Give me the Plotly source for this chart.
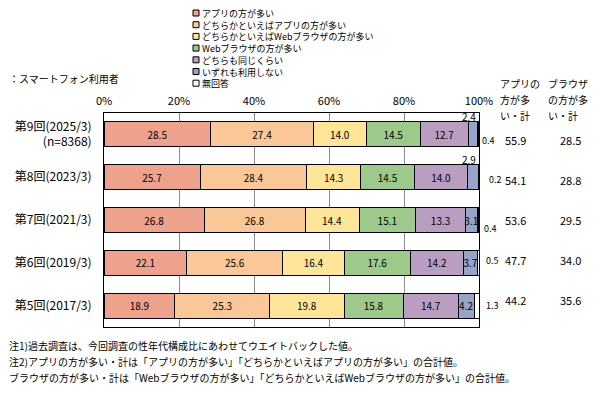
import plotly.graph_objects as go

# ---------------- data ----------------
categories = ["第9回(2025/3)<br>(n=8368)", "第8回(2023/3)", "第7回(2021/3)", "第6回(2019/3)", "第5回(2017/3)"]
series_names = ["アプリの方が多い", "どちらかといえばアプリの方が多い", "どちらかといえばWebブラウザの方が多い",
                "Webブラウザの方が多い", "どちらも同じくらい", "いずれも利用しない", "無回答"]
app_more = [28.5, 25.7, 26.8, 22.1, 18.9]
rather_app = [27.4, 28.4, 26.8, 25.6, 25.3]
rather_web = [14.0, 14.3, 14.4, 16.4, 19.8]
web_more = [14.5, 14.5, 15.1, 17.6, 15.8]
same = [12.7, 14.0, 13.3, 14.2, 14.7]
neither = [2.4, 2.9, 3.1, 3.7, 4.2]
no_answer = [0.4, 0.2, 0.4, 0.5, 1.3]
app_total = [55.9, 54.1, 53.6, 47.7, 44.2]
browser_total = [28.5, 28.8, 29.5, 34.0, 35.6]
x_ticks = [0, 20, 40, 60, 80, 100]
x_tick_labels = ["0%", "20%", "40%", "60%", "80%", "100%"]
header_app = ["アプリの", "方が多", "い・計"]
header_browser = ["ブラウザ", "の方が多", "い・計"]

series_values = [app_more, rather_app, rather_web, web_more, same, neither, no_answer]
colors = ["#EEA28C", "#FAC898", "#FEE597", "#9DC98A", "#B99EC1", "#97A3C8", "#FFFFFF"]

FONT = "Noto Sans CJK JP"
W, H = 601, 393
L, R, T, B = 104, 479, 113, 327


def px_x(px):
    return (px - L) / (R - L)


def px_y(py):
    return (B - py) / (B - T)


fig = go.Figure()
for i, (name, vals) in enumerate(zip(series_names, series_values)):
    if i < 5:
        texts = [f"{v:.1f}" for v in vals]
    elif i == 5:
        texts = [f"{v:.1f}" if v >= 3 else "" for v in vals]
    else:
        texts = ["" for v in vals]
    fig.add_trace(go.Bar(
        y=categories, x=vals, name=name, orientation="h",
        marker=dict(color=colors[i], line=dict(color="#000000", width=1)),
        text=texts, textposition="inside", insidetextanchor="middle",
        textangle=0, constraintext="none",
        textfont=dict(family=FONT, size=10, color="#000000"),
        showlegend=False, hoverinfo="skip",
    ))

annotations = []
shapes = []

# small "いずれも利用しない" labels above the bar
cum_before_neither = [sum(s[k] for s in series_values[:5]) for k in range(len(categories))]
for k, cat in enumerate(categories):
    v = neither[k]
    if v < 3:
        annotations.append(dict(x=cum_before_neither[k] + v / 2, y=cat, xref="x", yref="y",
                                text=f"{v:.1f}", showarrow=False, xshift=-4, yshift=18,
                                font=dict(family=FONT, size=10, color="#000000")))

# 無回答 labels to the right of the bars
na_yshift = [-6, -2, -8, 2, 0]
na_xshift = [1, 8, 3, 5, 5]
for k, cat in enumerate(categories):
    annotations.append(dict(x=100, y=cat, xref="x", yref="y", xanchor="left",
                            text=f"{no_answer[k]:.1f}", showarrow=False,
                            xshift=na_xshift[k], yshift=na_yshift[k],
                            font=dict(family=FONT, size=9, color="#000000")))

# totals columns
for k, cat in enumerate(categories):
    ys = -6 + k * 3
    annotations.append(dict(x=px_x(515), y=cat, xref="paper", yref="y", xanchor="center",
                            text=f"{app_total[k]:.1f}", showarrow=False, yshift=ys,
                            font=dict(family=FONT, size=11, color="#000000")))
    annotations.append(dict(x=px_x(583), y=cat, xref="paper", yref="y", xanchor="right",
                            text=f"{browser_total[k]:.1f}", showarrow=False, yshift=ys,
                            font=dict(family=FONT, size=11, color="#000000")))

# column headers (one annotation per line)
for j, (ta, tb) in enumerate(zip(header_app, header_browser)):
    yy = px_y(84 + j * 16)
    annotations.append(dict(x=px_x(498), y=yy, xref="paper", yref="paper", xanchor="left", yanchor="middle",
                            text=ta, showarrow=False, font=dict(family=FONT, size=10, color="#000000")))
    annotations.append(dict(x=px_x(546), y=yy, xref="paper", yref="paper", xanchor="left", yanchor="middle",
                            text=tb, showarrow=False, font=dict(family=FONT, size=10, color="#000000")))

# subtitle
annotations.append(dict(x=px_x(7), y=px_y(78), xref="paper", yref="paper", xanchor="left", yanchor="middle",
                        text="：スマートフォン利用者", showarrow=False,
                        font=dict(family=FONT, size=10, color="#000000")))

# custom legend: one multi-line text block plus colour boxes
LEG_FONT = 9
line_h = LEG_FONT * 1.3
first_y = 13
annotations.append(dict(x=px_x(200), y=px_y(first_y - line_h / 2 - 2), xref="paper", yref="paper",
                        xanchor="left", yanchor="top", align="left",
                        text="<br>".join(series_names), showarrow=False,
                        font=dict(family=FONT, size=LEG_FONT, color="#000000")))
for i, name in enumerate(series_names):
    yc = first_y + i * line_h
    shapes.append(dict(type="rect", xref="paper", yref="paper",
                       x0=px_x(193), x1=px_x(199), y0=px_y(yc + 3), y1=px_y(yc - 3),
                       fillcolor=colors[i], line=dict(color="#000000", width=1)))

# notes
notes = ["注1)過去調査は、今回調査の性年代構成比にあわせてウエイトバックした値。",
         "注2)アプリの方が多い・計は「アプリの方が多い」「どちらかといえばアプリの方が多い」の合計値。",
         "ブラウザの方が多い・計は「Webブラウザの方が多い」「どちらかといえばWebブラウザの方が多い」の合計値。"]
for j, t in enumerate(notes):
    annotations.append(dict(x=px_x(7), y=px_y(345 + j * 16), xref="paper", yref="paper", xanchor="left",
                            yanchor="middle", text=t, showarrow=False,
                            font=dict(family=FONT, size=10, color="#000000")))

fig.update_layout(
    width=W, height=H, barmode="stack", bargap=0.42,
    margin=dict(l=L, r=W - R, t=T, b=H - B, pad=0, autoexpand=False),
    paper_bgcolor="#FFFFFF", plot_bgcolor="#FFFFFF",
    font=dict(family=FONT, size=11, color="#000000"),
    annotations=annotations, shapes=shapes,
    xaxis=dict(range=[0, 100], side="top", tickmode="array", tickvals=x_ticks, ticktext=x_tick_labels,
               showgrid=True, gridcolor="#8C8C8C", gridwidth=1, automargin=False,
               showline=True, linecolor="#000000", linewidth=1, mirror=True, ticklabelstandoff=3,
               zeroline=False, ticks="", tickfont=dict(family=FONT, size=11)),
    yaxis=dict(categoryorder="array", categoryarray=categories, autorange="reversed",
               showline=True, linecolor="#000000", linewidth=1, mirror=True, automargin=False,
               ticks="", ticklabelstandoff=9, tickfont=dict(family=FONT, size=12),
               showgrid=False, zeroline=False),
)

fig.write_html("out.html", config={"displayModeBar": False},
               post_script="document.body.style.margin='0';document.body.style.overflow='hidden';")
